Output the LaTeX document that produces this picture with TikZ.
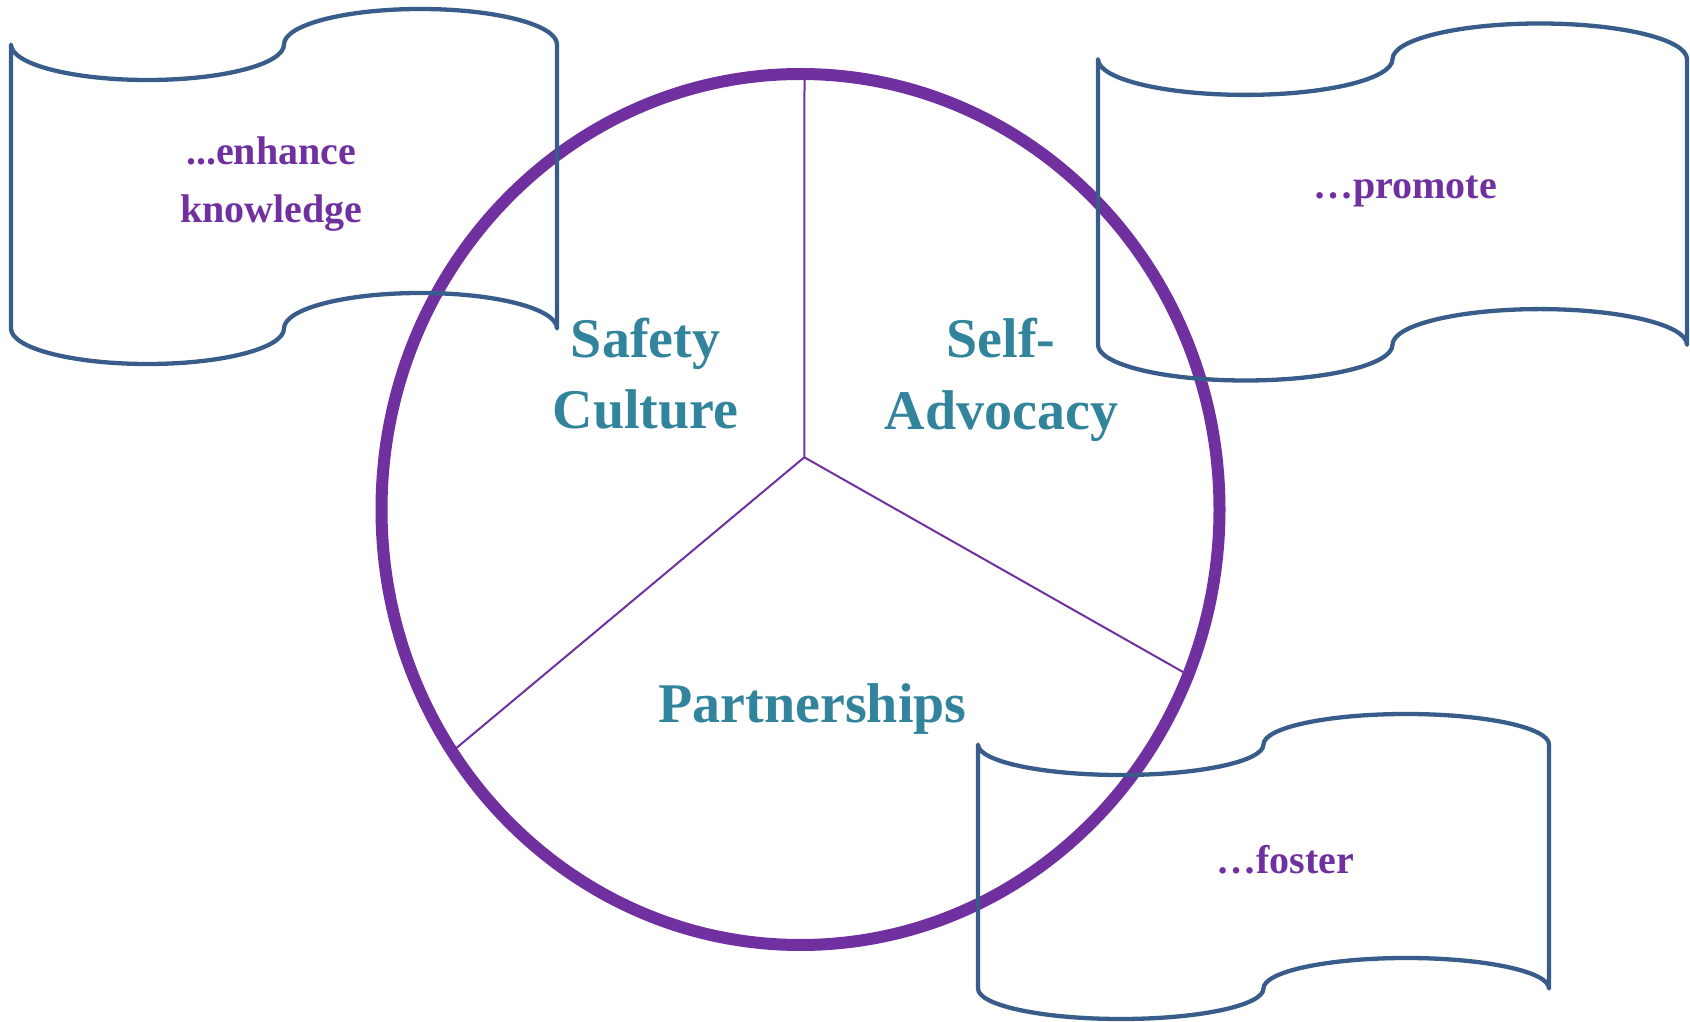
\documentclass[tikz,border=0pt]{standalone}
\usepackage{fontspec}
\setmainfont{Liberation Serif}
\definecolor{circpurple}{HTML}{7030A0}
\definecolor{labelteal}{HTML}{31849B}
\definecolor{scrollblue}{HTML}{385D8A}
\tikzset{
  scroll/.style={draw=scrollblue, line width=4.3pt, line join=round, line cap=round},
  biglabel/.style={anchor=base, inner sep=0pt, text=labelteal, font=\fontsize{56}{62}\selectfont\bfseries},
  smalllabel/.style={anchor=base, inner sep=0pt, text=circpurple, font=\fontsize{40}{46}\selectfont\bfseries},
  spoke/.style={draw=circpurple, line width=2pt}
}
\newcommand\tapeshape[4]{% x0, top, W, H
  \pgfmathsetmacro\ta{#4/10}%
  \pgfmathsetmacro\trx{#3/4}%
  \draw[scroll] (#1,#2-\ta)
    arc[start angle=180,end angle=360,x radius=\trx,y radius=\ta]
    arc[start angle=180,end angle=0,x radius=\trx,y radius=\ta]
    -- ++(0,{-(#4-2*\ta)})
    arc[start angle=0,end angle=180,x radius=\trx,y radius=\ta]
    arc[start angle=360,end angle=180,x radius=\trx,y radius=\ta]
    -- cycle;
}
\begin{document}
\begin{tikzpicture}[x=1pt,y=1pt]
\useasboundingbox (0,0) rectangle (1690,1021);
% circle
\coordinate (cc) at (800.5,511.5);
\draw[circpurple, line width=12pt] (cc) ellipse [x radius=419, y radius=435.5];
% spokes
\coordinate (hub) at (804.3,563.7);
\coordinate (stop) at (804.5,947);
\coordinate (sleft) at (454,271);
\coordinate (sright) at (1183,349);
\draw[spoke] (hub) -- (stop);
\draw[spoke] (hub) -- (sleft);
\draw[spoke] (hub) -- (sright);
% scrolls
\tapeshape{11}{1012}{546}{355}
\tapeshape{1098}{997.5}{589}{357}
\tapeshape{978}{307}{571}{305}
% labels
\node[biglabel] (safety) at (645.6,663) {Safety};
\node[biglabel] (culture) at (645.6,592) {Culture};
\node[biglabel] (self) at (1001,663) {Self-};
\node[biglabel] (advocacy) at (1001.5,591) {Advocacy};
\node[biglabel] (partner) at (812.6,298) {Partnerships};
\node[smalllabel] (enhance) at (271,856) {...enhance};
\node[smalllabel] (knowledge) at (271.5,798) {knowledge};
\node[smalllabel] (promote) at (1405,822) {…promote};
\node[smalllabel] (foster) at (1285,148) {…foster};
\end{tikzpicture}
\end{document}
